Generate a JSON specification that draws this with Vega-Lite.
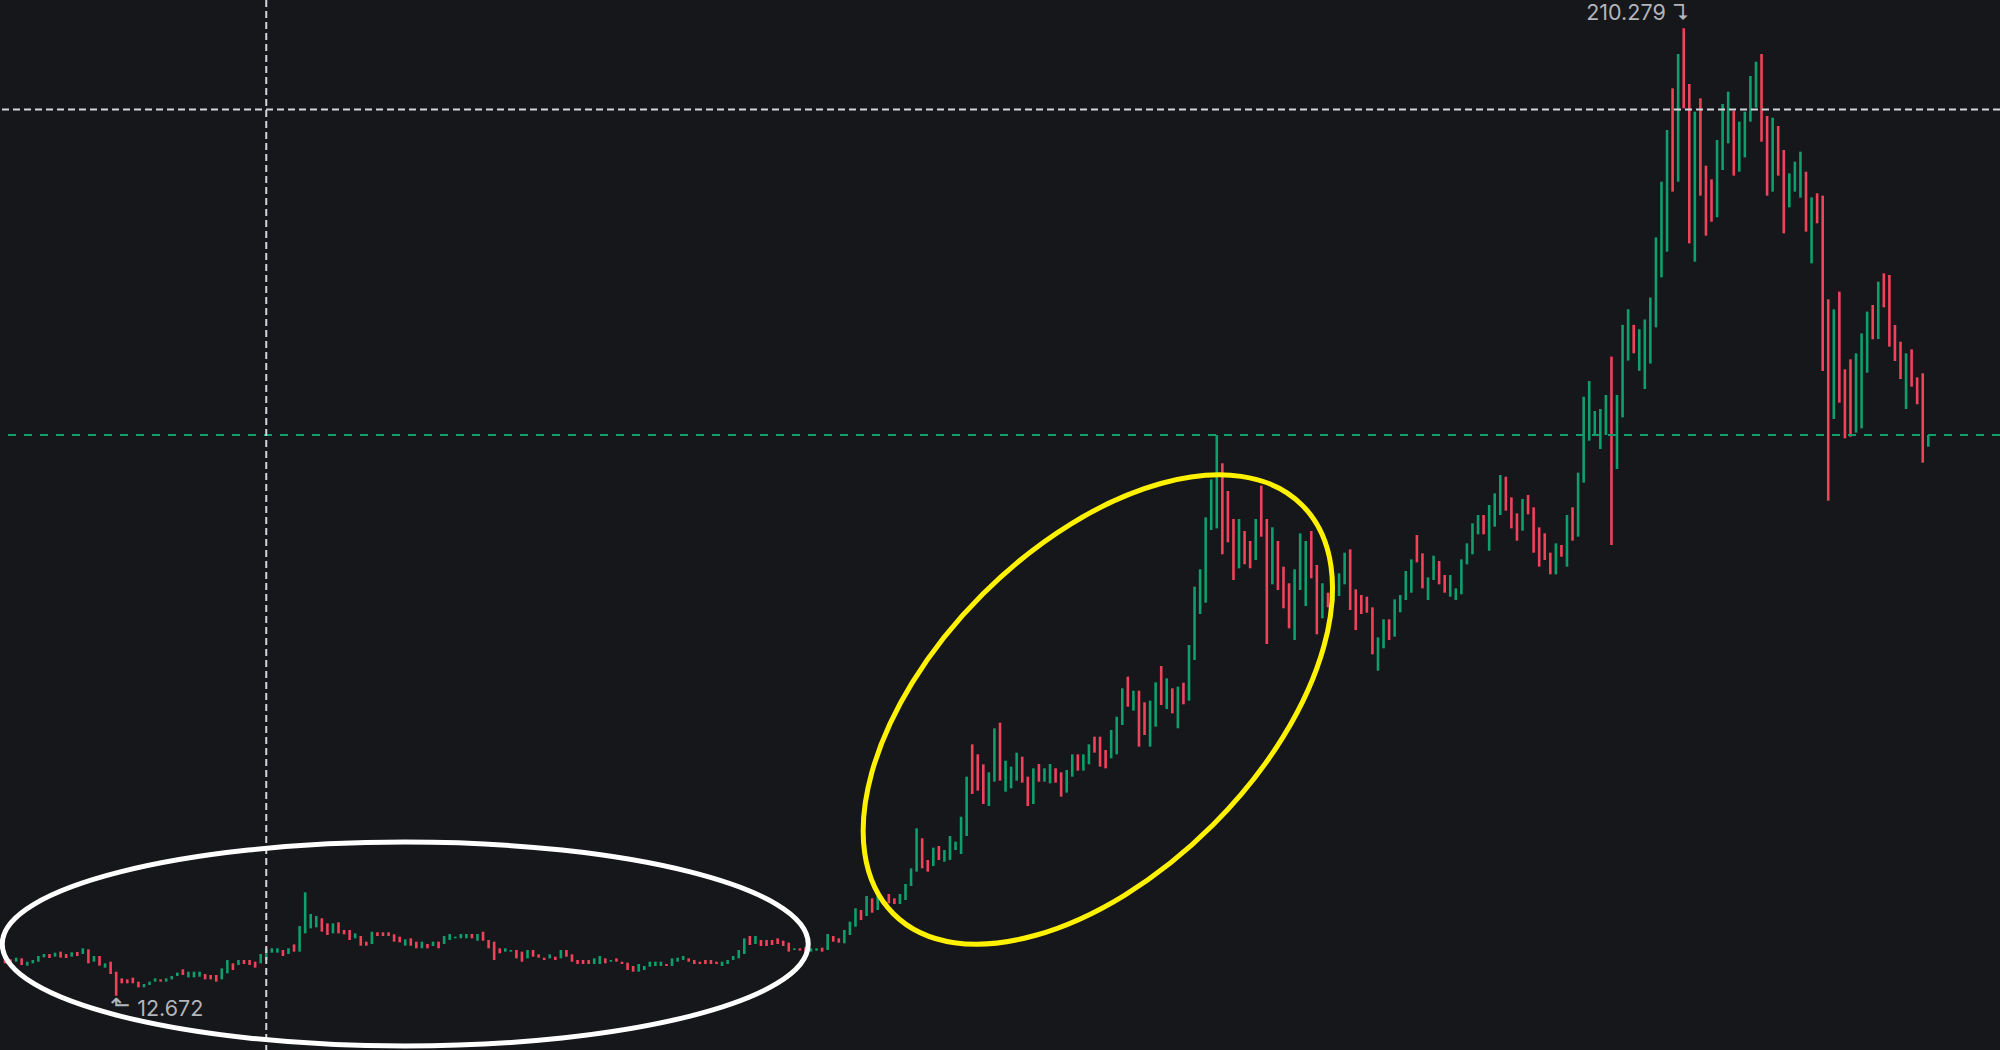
{
"$schema": "https://vega.github.io/schema/vega-lite/v6.json",
"width": 2000, "height": 1050,
"autosize": {"type": "none"},
"padding": 0,
"background": "#16171a",
"config": {"view": {"stroke": null}},
"datasets": {
"candles": [
{"i":0,"o":20.31,"c":19.28},{"i":1,"o":20.10,"c":19.28},{"i":2,"o":19.62,"c":20.44},{"i":3,"o":20.31,"c":18.94},{"i":4,"o":18.81,"c":19.62},
{"i":5,"o":19.28,"c":19.96},{"i":6,"o":19.62,"c":20.78},{"i":7,"o":20.51,"c":21.19},{"i":8,"o":21.19,"c":20.37},{"i":9,"o":20.64,"c":21.46},
{"i":10,"o":21.67,"c":20.44},{"i":11,"o":21.19,"c":20.37},{"i":12,"o":20.64,"c":21.53},{"i":13,"o":21.60,"c":20.78},{"i":14,"o":21.19,"c":22.35},
{"i":15,"o":22.14,"c":19.28},{"i":16,"o":19.62,"c":20.78},{"i":17,"o":20.78,"c":18.81},{"i":18,"o":18.40,"c":19.28},{"i":19,"o":19.62,"c":17.10},
{"i":20,"o":17.58,"c":12.672},{"i":21,"o":16.22,"c":15.20},{"i":22,"o":16.01,"c":15.20},{"i":23,"o":16.36,"c":15.20},{"i":24,"o":15.54,"c":14.38},
{"i":25,"o":14.38,"c":15.06},{"i":26,"o":14.86,"c":15.54},{"i":27,"o":15.54,"c":16.22},{"i":28,"o":16.01,"c":15.54},{"i":29,"o":15.54,"c":16.22},
{"i":30,"o":16.01,"c":16.70},{"i":31,"o":16.70,"c":17.38},{"i":32,"o":18.06,"c":16.90},{"i":33,"o":16.42,"c":17.58},{"i":34,"o":16.42,"c":17.58},
{"i":35,"o":16.56,"c":17.58},{"i":36,"o":17.10,"c":16.01},{"i":37,"o":16.90,"c":16.01},{"i":38,"o":16.90,"c":15.54},{"i":39,"o":16.01,"c":18.26},
{"i":40,"o":17.24,"c":19.96},{"i":41,"o":19.28,"c":17.92},{"i":42,"o":18.94,"c":19.96},{"i":43,"o":19.96,"c":19.15},{"i":44,"o":19.96,"c":18.94},
{"i":45,"o":19.62,"c":18.40},{"i":46,"o":19.28,"c":21.19},{"i":47,"o":19.96,"c":22.35},{"i":48,"o":21.46,"c":22.35},{"i":49,"o":21.46,"c":22.35},
{"i":50,"o":22.01,"c":20.78},{"i":51,"o":21.19,"c":22.35},{"i":52,"o":23.16,"c":21.67},{"i":53,"o":21.67,"c":26.90},{"i":54,"o":25.41,"c":33.79},
{"i":55,"o":26.43,"c":29.36},{"i":56,"o":26.64,"c":28.95},{"i":57,"o":28.48,"c":25.75},{"i":58,"o":27.45,"c":25.07},{"i":59,"o":25.41,"c":27.45},
{"i":60,"o":27.66,"c":25.41},{"i":61,"o":26.09,"c":25.21},{"i":62,"o":26.09,"c":24.05},{"i":63,"o":24.39,"c":25.41},{"i":64,"o":24.87,"c":22.89},
{"i":65,"o":23.71,"c":22.89},{"i":66,"o":23.23,"c":25.75},{"i":67,"o":25.62,"c":24.87},{"i":68,"o":25.62,"c":24.87},{"i":69,"o":25.62,"c":24.87},
{"i":70,"o":25.21,"c":23.71},{"i":71,"o":24.73,"c":23.57},{"i":72,"o":22.89,"c":24.18},{"i":73,"o":24.39,"c":22.89},{"i":74,"o":23.71,"c":22.35},
{"i":75,"o":22.35,"c":23.71},{"i":76,"o":23.23,"c":22.35},{"i":77,"o":22.82,"c":23.71},{"i":78,"o":23.71,"c":22.35},{"i":79,"o":23.23,"c":24.87},
{"i":80,"o":24.05,"c":25.28},{"i":81,"o":24.39,"c":24.73},{"i":82,"o":24.39,"c":25.28},{"i":83,"o":24.39,"c":25.28},{"i":84,"o":25.28,"c":24.39},
{"i":85,"o":23.91,"c":25.28},{"i":86,"o":25.75,"c":23.91},{"i":87,"o":24.05,"c":22.35},{"i":88,"o":23.71,"c":19.96},{"i":89,"o":22.35,"c":21.33},
{"i":90,"o":21.67,"c":22.35},{"i":91,"o":21.67,"c":22.01},{"i":92,"o":22.01,"c":20.30},{"i":93,"o":21.67,"c":19.62},{"i":94,"o":20.30,"c":22.01},
{"i":95,"o":22.01,"c":20.64},{"i":96,"o":21.12,"c":20.44},{"i":97,"o":20.44,"c":19.96},{"i":98,"o":20.30,"c":21.12},{"i":99,"o":20.64,"c":19.96},
{"i":100,"o":20.30,"c":22.01},{"i":101,"o":22.01,"c":20.64},{"i":102,"o":21.12,"c":19.62},{"i":103,"o":19.96,"c":19.15},{"i":104,"o":19.96,"c":19.15},
{"i":105,"o":19.96,"c":19.15},{"i":106,"o":19.15,"c":20.30},{"i":107,"o":19.15,"c":20.78},{"i":108,"o":20.30,"c":19.28},{"i":109,"o":19.62,"c":19.96},
{"i":110,"o":20.30,"c":19.62},{"i":111,"o":19.62,"c":19.15},{"i":112,"o":19.42,"c":17.92},{"i":113,"o":18.74,"c":17.58},{"i":114,"o":17.58,"c":19.15},
{"i":115,"o":17.92,"c":18.74},{"i":116,"o":18.60,"c":19.62},{"i":117,"o":18.74,"c":19.62},{"i":118,"o":18.74,"c":19.62},{"i":119,"o":19.15,"c":18.74},
{"i":120,"o":18.74,"c":20.30},{"i":121,"o":19.62,"c":20.44},{"i":122,"o":19.96,"c":20.78},{"i":123,"o":20.30,"c":19.62},{"i":124,"o":19.96,"c":19.15},
{"i":125,"o":19.62,"c":19.15},{"i":126,"o":19.96,"c":19.15},{"i":127,"o":19.96,"c":19.15},{"i":128,"o":19.62,"c":19.15},{"i":129,"o":18.74,"c":19.62},
{"i":130,"o":19.15,"c":19.96},{"i":131,"o":19.96,"c":20.78},{"i":132,"o":20.30,"c":22.01},{"i":133,"o":21.19,"c":24.39},{"i":134,"o":24.87,"c":23.03},
{"i":135,"o":23.23,"c":24.87},{"i":136,"o":24.05,"c":22.82},{"i":137,"o":24.05,"c":22.82},{"i":138,"o":24.05,"c":23.03},{"i":139,"o":24.39,"c":23.23},
{"i":140,"o":23.91,"c":22.82},{"i":141,"o":23.51,"c":21.67},{"i":142,"o":22.01,"c":22.35},{"i":143,"o":22.35,"c":21.87},{"i":144,"o":22.55,"c":21.67},
{"i":145,"o":21.67,"c":22.35},{"i":146,"o":21.87,"c":22.35},{"i":147,"o":22.48,"c":21.67},{"i":148,"o":22.01,"c":25.27},{"i":149,"o":24.86,"c":23.71},
{"i":150,"o":24.39,"c":23.51},{"i":151,"o":23.37,"c":26.09},{"i":152,"o":25.07,"c":27.80},{"i":153,"o":26.77,"c":30.52},{"i":154,"o":30.18,"c":28.13},
{"i":155,"o":28.95,"c":33.04},{"i":156,"o":32.56,"c":29.63},{"i":157,"o":30.18,"c":33.04},{"i":158,"o":31.20,"c":32.22},{"i":159,"o":33.45,"c":31.54},
{"i":160,"o":32.56,"c":31.40},{"i":161,"o":31.40,"c":33.45},{"i":162,"o":32.22,"c":35.49},{"i":163,"o":35.08,"c":38.69},{"i":164,"o":38.01,"c":46.86},
{"i":165,"o":44.82,"c":38.69},{"i":166,"o":40.39,"c":38.01},{"i":167,"o":39.17,"c":42.91},{"i":168,"o":43.25,"c":40.39},{"i":169,"o":40.05,"c":42.43},
{"i":170,"o":40.39,"c":45.29},{"i":171,"o":42.43,"c":44.14},{"i":172,"o":41.62,"c":49.24},{"i":173,"o":45.29,"c":57.41},{"i":174,"o":64.02,"c":53.87},
{"i":175,"o":61.98,"c":54.55},{"i":176,"o":59.93,"c":51.83},{"i":177,"o":51.42,"c":58.30},{"i":178,"o":56.39,"c":67.29},{"i":179,"o":68.44,"c":56.60},
{"i":180,"o":54.35,"c":60.68},{"i":181,"o":55.03,"c":59.46},{"i":182,"o":56.60,"c":62.32},{"i":183,"o":61.50,"c":56.19},{"i":184,"o":57.41,"c":51.42},
{"i":185,"o":51.83,"c":59.12},{"i":186,"o":60.00,"c":56.39},{"i":187,"o":56.39,"c":59.12},{"i":188,"o":56.05,"c":60.00},{"i":189,"o":59.12,"c":56.19},
{"i":190,"o":58.30,"c":53.33},{"i":191,"o":54.15,"c":58.77},{"i":192,"o":57.41,"c":61.97},{"i":193,"o":61.97,"c":58.64},{"i":194,"o":58.64,"c":61.97},
{"i":195,"o":59.93,"c":64.02},{"i":196,"o":65.58,"c":62.32},{"i":197,"o":65.58,"c":59.46},{"i":198,"o":62.86,"c":59.12},{"i":199,"o":61.16,"c":66.95},
{"i":200,"o":61.97,"c":69.67},{"i":201,"o":67.97,"c":75.46},{"i":202,"o":77.84,"c":71.71},{"i":203,"o":70.90,"c":74.98},{"i":204,"o":74.98,"c":63.54},
{"i":205,"o":72.60,"c":65.92},{"i":206,"o":63.54,"c":72.94},{"i":207,"o":67.63,"c":76.68},{"i":208,"o":80.02,"c":72.05},{"i":209,"o":71.24,"c":77.50},
{"i":210,"o":75.46,"c":70.35},{"i":211,"o":67.29,"c":75.80},{"i":212,"o":76.61,"c":72.19},{"i":213,"o":72.94,"c":84.31},{"i":214,"o":81.25,"c":96.23},
{"i":215,"o":90.64,"c":99.77},{"i":216,"o":92.96,"c":110.39},{"i":217,"o":107.80,"c":118.15},{"i":218,"o":108.14,"c":127.21},{"i":219,"o":121.42,"c":102.83},
{"i":220,"o":115.77,"c":105.28},{"i":221,"o":110.05,"c":97.59},{"i":222,"o":99.97,"c":110.05},{"i":223,"o":107.60,"c":100.79},{"i":224,"o":105.55,"c":99.97},
{"i":225,"o":101.67,"c":110.05},{"i":226,"o":116.86,"c":106.44},{"i":227,"o":110.05,"c":84.51},{"i":228,"o":96.70,"c":108.35},{"i":229,"o":105.55,"c":95.54},
{"i":230,"o":100.31,"c":91.80},{"i":231,"o":96.91,"c":87.71},{"i":232,"o":85.33,"c":99.77},{"i":233,"o":95.54,"c":107.12},{"i":234,"o":92.27,"c":105.55},
{"i":235,"o":107.60,"c":97.93},{"i":236,"o":100.65,"c":86.49},{"i":237,"o":89.76,"c":96.91},{"i":238,"o":95.00,"c":92.00},{"i":239,"o":93.16,"c":96.91},
{"i":240,"o":94.32,"c":98.95},{"i":241,"o":96.70,"c":103.17},{"i":242,"o":103.85,"c":91.46},{"i":243,"o":95.68,"c":87.37},{"i":244,"o":94.52,"c":90.64},
{"i":245,"o":94.18,"c":90.91},{"i":246,"o":92.00,"c":82.40},{"i":247,"o":79.06,"c":85.87},{"i":248,"o":83.63,"c":89.55},{"i":249,"o":89.55,"c":85.33},
{"i":250,"o":86.01,"c":93.63},{"i":251,"o":90.98,"c":94.52},{"i":252,"o":93.50,"c":99.42},{"i":253,"o":94.99,"c":101.80},{"i":254,"o":106.77,"c":101.19},
{"i":255,"o":103.03,"c":95.88},{"i":256,"o":93.50,"c":98.13},{"i":257,"o":97.58,"c":102.55},{"i":258,"o":101.46,"c":96.70},{"i":259,"o":98.60,"c":94.99},
{"i":260,"o":94.18,"c":98.60},{"i":261,"o":93.50,"c":95.88},{"i":262,"o":94.66,"c":101.80},{"i":263,"o":100.78,"c":105.07},{"i":264,"o":102.83,"c":109.16},
{"i":265,"o":106.91,"c":110.86},{"i":266,"o":110.86,"c":106.91},{"i":267,"o":103.57,"c":112.90},{"i":268,"o":108.48,"c":115.29},{"i":269,"o":110.86,"c":119.03},
{"i":270,"o":118.69,"c":111.75},{"i":271,"o":114.47,"c":108.14},{"i":272,"o":111.20,"c":105.62},{"i":273,"o":107.66,"c":114.13},{"i":274,"o":114.95,"c":111.00},
{"i":275,"o":112.43,"c":103.17},{"i":276,"o":108.34,"c":100.31},{"i":277,"o":107.12,"c":101.67},{"i":278,"o":103.17,"c":98.74},{"i":279,"o":98.74,"c":105.07},
{"i":280,"o":104.73,"c":102.35},{"i":281,"o":100.31,"c":110.86},{"i":282,"o":112.43,"c":105.62},{"i":283,"o":106.44,"c":119.51},{"i":284,"o":117.47,"c":135.03},
{"i":285,"o":126.05,"c":138.23},{"i":286,"o":127.20,"c":132.11},{"i":287,"o":124.34,"c":132.52},{"i":288,"o":127.20,"c":135.37},{"i":289,"o":143.21,"c":104.73},
{"i":290,"o":120.26,"c":135.37},{"i":291,"o":130.80,"c":149.70},{"i":292,"o":142.40,"c":152.90},{"i":293,"o":149.70,"c":143.90},{"i":294,"o":140.30,"c":148.80},
{"i":295,"o":136.60,"c":150.80},{"i":296,"o":141.80,"c":155.30},{"i":297,"o":149.20,"c":167.58},{"i":298,"o":159.41,"c":178.95},{"i":299,"o":164.65,"c":189.50},
{"i":300,"o":198.02,"c":176.91},{"i":301,"o":178.95,"c":205.03},{"i":302,"o":210.279,"c":193.93},{"i":303,"o":198.90,"c":166.35},{"i":304,"o":162.61,"c":193.25},
{"i":305,"o":195.97,"c":176.09},{"i":306,"o":182.22,"c":167.92},{"i":307,"o":179.43,"c":170.78},{"i":308,"o":171.67,"c":187.46},{"i":309,"o":181.33,"c":194.82},
{"i":310,"o":186.78,"c":197.34},{"i":311,"o":193.45,"c":180.18},{"i":312,"o":180.99,"c":191.21},{"i":313,"o":183.92,"c":193.25},{"i":314,"o":191.21,"c":200.54},
{"i":315,"o":194.07,"c":203.46},{"i":316,"o":205.03,"c":187.12},{"i":317,"o":192.36,"c":176.09},{"i":318,"o":176.91,"c":192.02},{"i":319,"o":190.32,"c":180.18},
{"i":320,"o":185.42,"c":168.40},{"i":321,"o":173.71,"c":180.65},{"i":322,"o":176.91,"c":183.04},{"i":323,"o":175.68,"c":185.08},{"i":324,"o":180.99,"c":168.74},
{"i":325,"o":162.27,"c":175.75},{"i":326,"o":176.57,"c":170.44},{"i":327,"o":176.09,"c":140.28},{"i":328,"o":154.92,"c":113.79},{"i":329,"o":130.47,"c":152.87},
{"i":330,"o":156.48,"c":133.81},{"i":331,"o":140.62,"c":126.52},{"i":332,"o":142.66,"c":126.86},{"i":333,"o":127.68,"c":143.89},{"i":334,"o":128.56,"c":147.97},
{"i":335,"o":139.94,"c":152.40},{"i":336,"o":153.76,"c":146.75},{"i":337,"o":146.81,"c":158.53},{"i":338,"o":160.23,"c":153.28},{"i":339,"o":159.89,"c":145.25},
{"i":340,"o":149.67,"c":142.32},{"i":341,"o":146.27,"c":138.64},{"i":342,"o":132.51,"c":143.89},{"i":343,"o":144.70,"c":137.08},{"i":344,"o":138.98,"c":133.47},
{"i":345,"o":139.80,"c":121.55},{"i":346,"o":124.82,"c":127.20}
]
},
"layer": [
{"data": {"name": "candles"},
 "mark": {"type": "rule", "strokeWidth": 2.6, "strokeCap": "butt"},
 "encoding": {
  "x": {"field": "i", "type": "quantitative", "scale": {"domain": [-0.8995, 358.9], "nice": false, "zero": false}, "axis": null},
  "y": {"field": "o", "type": "quantitative", "scale": {"domain": [1.58, 216.06], "nice": false, "zero": false}, "axis": null},
  "y2": {"field": "c"},
  "color": {"condition": {"test": "datum.c >= datum.o", "value": "#0f9f6c"}, "value": "#f0435b"}
 }},
{"data": {"values": [{"p": 193.7}]},
 "mark": {"type": "rule", "stroke": "#d3d5db", "strokeWidth": 2, "strokeDash": [7, 4]},
 "encoding": {"y": {"field": "p", "type": "quantitative", "scale": {"domain": [1.58, 216.06], "nice": false, "zero": false}, "axis": null}}},
{"data": {"values": [{"p": 127.2}]},
 "mark": {"type": "rule", "stroke": "#0f9f6c", "strokeWidth": 2, "strokeDash": [8, 8]},
 "encoding": {"y": {"field": "p", "type": "quantitative", "scale": {"domain": [1.58, 216.06], "nice": false, "zero": false}, "axis": null}}},
{"data": {"values": [{"i": 47}]},
 "mark": {"type": "rule", "stroke": "#d3d5db", "strokeWidth": 2, "strokeDash": [7, 4]},
 "encoding": {"x": {"field": "i", "type": "quantitative", "scale": {"domain": [-0.8995, 358.9], "nice": false, "zero": false}, "axis": null}}},
{"data": {"values": [{"i": 72, "p": 23.23}]},
 "mark": {"type": "point", "shape": "M-1,0C-1,-0.1397,-0.5523,-0.253,0,-0.253C0.5523,-0.253,1,-0.1397,1,0C1,0.1397,0.5523,0.253,0,0.253C-0.5523,0.253,-1,0.1397,-1,0Z", "size": 649636, "filled": false, "stroke": "#ffffff", "strokeWidth": 5, "opacity": 1},
 "encoding": {
  "x": {"field": "i", "type": "quantitative", "scale": {"domain": [-0.8995, 358.9], "nice": false, "zero": false}, "axis": null},
  "y": {"field": "p", "type": "quantitative", "scale": {"domain": [1.58, 216.06], "nice": false, "zero": false}, "axis": null}
 }},
{"data": {"values": [{"i": 196.6, "p": 71.13}]},
 "mark": {"type": "point", "shape": "M-1,0C-1,-0.3115,-0.5523,-0.564,0,-0.564C0.5523,-0.564,1,-0.3115,1,0C1,0.3115,0.5523,0.564,0,0.564C-0.5523,0.564,-1,0.3115,-1,0Z", "size": 334084, "angle": -45, "filled": false, "stroke": "#fff200", "strokeWidth": 5, "opacity": 1},
 "encoding": {
  "x": {"field": "i", "type": "quantitative", "scale": {"domain": [-0.8995, 358.9], "nice": false, "zero": false}, "axis": null},
  "y": {"field": "p", "type": "quantitative", "scale": {"domain": [1.58, 216.06], "nice": false, "zero": false}, "axis": null}
 }},
{"data": {"values": [{"i": 302, "p": 210.279, "t": "210.279 ↴"}]},
 "mark": {"type": "text", "align": "right", "baseline": "bottom", "dx": 6, "dy": -3, "font": "Inter", "fontSize": 21.5, "color": "#b2b5bb"},
 "encoding": {
  "x": {"field": "i", "type": "quantitative", "scale": {"domain": [-0.8995, 358.9], "nice": false, "zero": false}, "axis": null},
  "y": {"field": "p", "type": "quantitative", "scale": {"domain": [1.58, 216.06], "nice": false, "zero": false}, "axis": null},
  "text": {"field": "t"}
 }},
{"data": {"values": [{"i": 20, "p": 12.672, "t": "12.672"}]},
 "mark": {"type": "text", "align": "left", "baseline": "top", "dx": 21, "dy": 3, "font": "Inter", "fontSize": 21.5, "color": "#b2b5bb"},
 "encoding": {
  "x": {"field": "i", "type": "quantitative", "scale": {"domain": [-0.8995, 358.9], "nice": false, "zero": false}, "axis": null},
  "y": {"field": "p", "type": "quantitative", "scale": {"domain": [1.58, 216.06], "nice": false, "zero": false}, "axis": null},
  "text": {"field": "t"}
 }},
{"data": {"values": [{"i": 20, "p": 12.672, "t": "⬑"}]},
 "mark": {"type": "text", "align": "center", "baseline": "middle", "dx": 4, "dy": 10, "font": "DejaVu Sans", "fontSize": 24, "color": "#b2b5bb"},
 "encoding": {
  "x": {"field": "i", "type": "quantitative", "scale": {"domain": [-0.8995, 358.9], "nice": false, "zero": false}, "axis": null},
  "y": {"field": "p", "type": "quantitative", "scale": {"domain": [1.58, 216.06], "nice": false, "zero": false}, "axis": null},
  "text": {"field": "t"}
 }}
]
}
